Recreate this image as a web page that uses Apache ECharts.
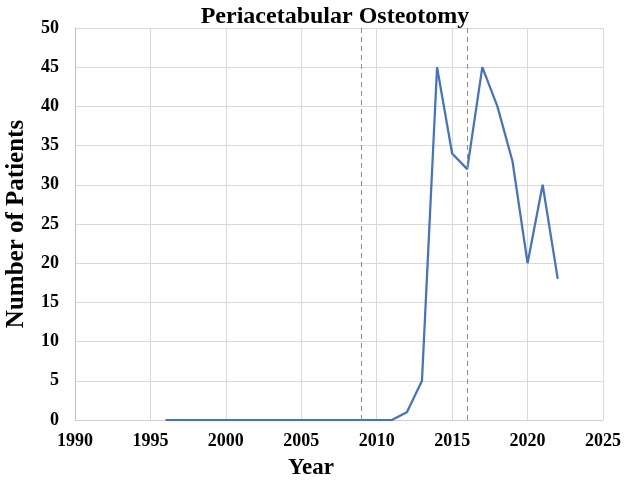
<!DOCTYPE html>
<html><head><meta charset="utf-8">
<script src="https://cdn.jsdelivr.net/npm/echarts@6/dist/echarts.min.js"></script>
<style>html,body{margin:0;padding:0;background:#fff}#c{width:627px;height:483px}</style>
</head><body><div id="c"></div>
<script>
var years = [1996,1997,1998,1999,2000,2001,2002,2003,2004,2005,2006,2007,2008,2009,2010,2011,2012,2013,2014,2015,2016,2017,2018,2019,2020,2021,2022];
var patients = [0,0,0,0,0,0,0,0,0,0,0,0,0,0,0,0,1,5,45,34,32,45,40,33,20,30,18];
var markerYears = [2009, 2016];
var xTicks = {min: 1990, max: 2025, interval: 5};
var yTicks = {min: 0, max: 50, interval: 5};

var font = '"Liberation Serif","Times New Roman",serif';
var chart = echarts.init(document.getElementById('c'));
chart.setOption({
  animation: false,
  title: {text: 'Periacetabular Osteotomy', left: 330, textAlign: 'center', top: 0,
    textStyle: {fontFamily: font, fontWeight: 'bold', fontSize: 24, color: '#000'}},
  grid: {left: 75, right: 24, top: 28, bottom: 63, containLabel: false, outerBoundsMode: 'none'},
  xAxis: {type: 'value', min: xTicks.min, max: xTicks.max, interval: xTicks.interval,
    name: 'Year', nameLocation: 'middle', nameGap: 37,
    nameTextStyle: {fontFamily: font, fontWeight: 'bold', fontSize: 23, color: '#000', padding: [0, 56, 0, 0]},
    axisLine: {show: true, lineStyle: {color: '#d0d0d0'}}, axisTick: {show: false},
    axisLabel: {fontFamily: font, fontWeight: 'bold', fontSize: 18, color: '#000', margin: 12,
      formatter: function(v){return String(v);}},
    splitLine: {show: true, lineStyle: {color: '#d9d9d9', width: 1}}},
  yAxis: {type: 'value', min: yTicks.min, max: yTicks.max, interval: yTicks.interval,
    name: 'Number of Patients', nameLocation: 'middle', nameGap: 46,
    nameTextStyle: {fontFamily: font, fontWeight: 'bold', fontSize: 25, color: '#000'},
    axisLine: {show: true, lineStyle: {color: '#bfbfbf'}}, axisTick: {show: false},
    axisLabel: {fontFamily: font, fontWeight: 'bold', fontSize: 18, color: '#000', margin: 16},
    splitLine: {show: true, lineStyle: {color: '#d9d9d9', width: 1}}},
  series: [{type: 'line', data: years.map(function(y,i){return [y, patients[i]];}),
    showSymbol: false, lineStyle: {color: '#4472C4', width: 2.25}, itemStyle: {color: '#4472C4'},
    markLine: {silent: true, symbol: 'none', label: {show: false},
      lineStyle: {color: '#8c8c8c', type: [5, 4], width: 1},
      data: markerYears.map(function(y){return {xAxis: y};})}}]
});
</script></body></html>
